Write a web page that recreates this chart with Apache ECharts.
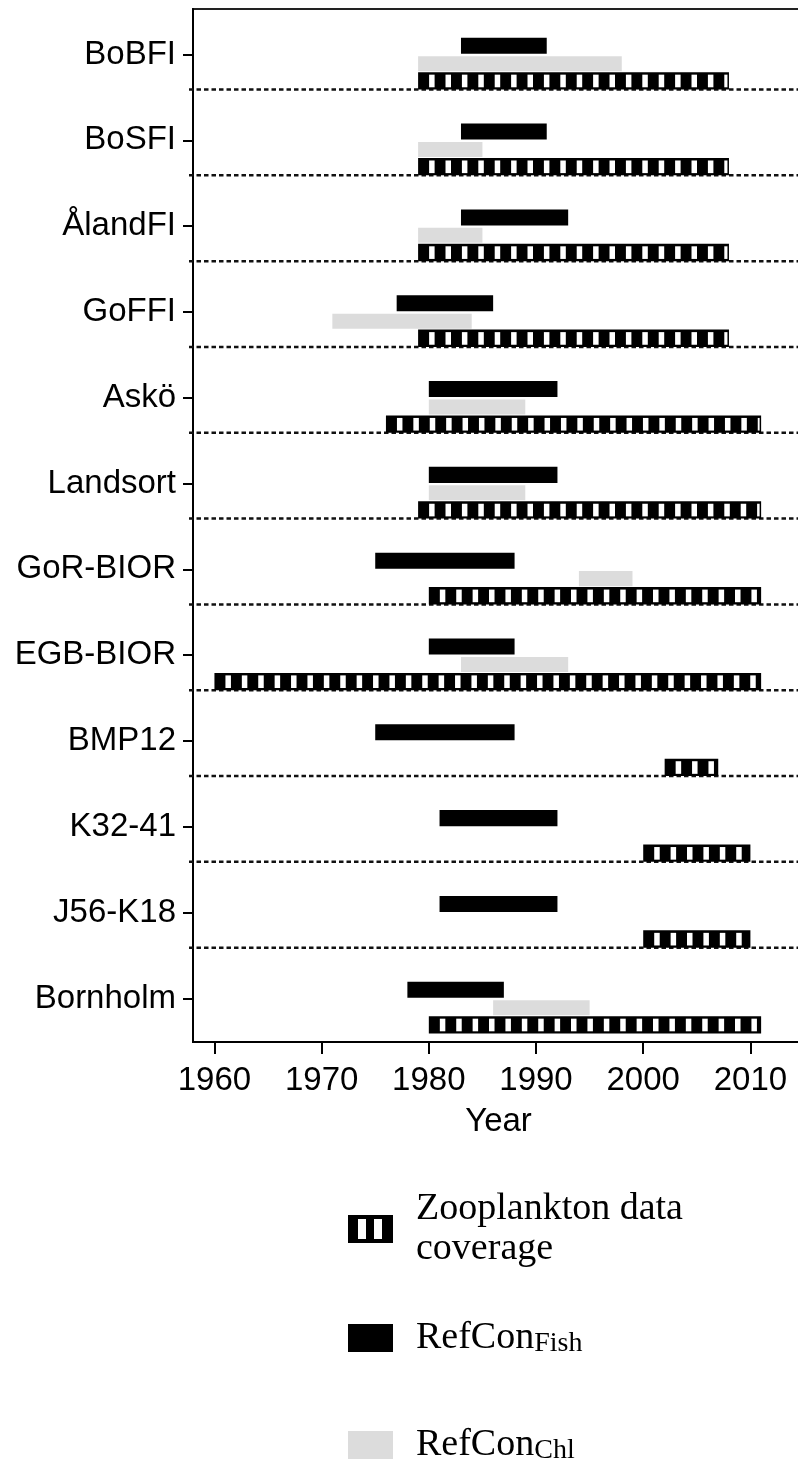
<!DOCTYPE html>
<html>
<head>
<meta charset="utf-8">
<script src="https://cdn.jsdelivr.net/npm/echarts@6/dist/echarts.min.js"></script>
<style>
html,body{margin:0;padding:0;background:#fff;}
#chart{width:798px;height:1467px;}
</style>
</head>
<body>
<div id="chart"></div>
<script>
// ---- data ----
const categories = ['BoBFI','BoSFI','ÅlandFI','GoFFI','Askö','Landsort','GoR-BIOR','EGB-BIOR','BMP12','K32-41','J56-K18','Bornholm'];
const fishStart = [1983,1983,1983,1977,1980,1980,1975,1980,1975,1981,1981,1978];
const fishEnd   = [1991,1991,1993,1986,1992,1992,1988,1988,1988,1992,1992,1987];
const chlStart  = [1979,1979,1979,1971,1980,1980,1994,1983,null,null,null,1986];
const chlEnd    = [1998,1985,1985,1984,1989,1989,1999,1993,null,null,null,1995];
const zooStart  = [1979,1979,1979,1979,1976,1979,1980,1960,2002,2000,2000,1980];
const zooEnd    = [2008,2008,2008,2008,2011,2011,2011,2011,2007,2010,2010,2011];
const yearTicks = [1960,1970,1980,1990,2000,2010];
const seriesNames = ['Zooplankton data coverage','RefConFish','RefConChl'];

function rows(starts, ends){
  const out = [];
  for (let i = 0; i < categories.length; i++) {
    if (starts[i] != null && ends[i] != null) out.push([i, starts[i], ends[i]]);
  }
  return out;
}
const catIdx = categories.map((_, i) => i);
const sepRows = categories.slice(0, categories.length - 1).map((_, i) => [i]);

const SANS = 'Liberation Sans';
const SERIF = 'Liberation Serif';

function solidBar(topF, botF, fill){
  return function(params, api){
    const i = api.value(0);
    const p0 = api.coord([api.value(1), i]);
    const p1 = api.coord([api.value(2), i]);
    const u = Math.abs(api.size([0, 1])[1]);
    const y0 = p0[1] + topF * u, y1 = p0[1] + botF * u;
    return {type: 'rect', shape: {x: p0[0], y: y0, width: p1[0] - p0[0], height: y1 - y0}, style: {fill: fill}};
  };
}

function stripedBar(topF, botF){
  return function(params, api){
    const i = api.value(0);
    const p0 = api.coord([api.value(1), i]);
    const p1 = api.coord([api.value(2), i]);
    const u = Math.abs(api.size([0, 1])[1]);
    const y0 = p0[1] + topF * u, y1 = p0[1] + botF * u;
    const w = p1[0] - p0[0];
    const children = [{type: 'rect', shape: {x: p0[0], y: y0, width: w, height: y1 - y0}, style: {fill: '#000'}}];
    const period = 16.4, off = 11, sw = 5.5, inTop = 2.5, inBot = 2.2;
    for (let s = off; s < w - 3; s += period) {
      const ww = Math.min(sw, w - 1.5 - s);
      children.push({type: 'rect', shape: {x: p0[0] + s, y: y0 + inTop, width: ww, height: (y1 - y0) - inTop - inBot}, style: {fill: '#fff'}});
    }
    return {type: 'group', children: children};
  };
}

const chart = echarts.init(document.getElementById('chart'), null, {renderer: 'canvas'});

const legendBase = {
  orient: 'vertical', left: 348, padding: 0, itemWidth: 45, itemHeight: 28,
  selectedMode: false,
  itemStyle: {borderWidth: 0},
  textStyle: {fontFamily: SERIF, fontSize: 38, color: '#000', lineHeight: 40, padding: [0, 0, 0, 18],
    rich: {sub: {fontFamily: SERIF, fontSize: 28, color: '#000', verticalAlign: 'bottom', lineHeight: 24}}}
};

const option = {
  backgroundColor: '#fff',
  animation: false,
  grid: {left: 193, right: -6, top: 9, bottom: 425, show: true, borderColor: '#222', borderWidth: 2,
    backgroundColor: 'transparent', outerBoundsMode: 'none', containLabel: false},
  xAxis: {
    type: 'value', min: 1958, max: 2015,
    name: 'Year', nameLocation: 'middle', nameGap: 63,
    nameTextStyle: {fontFamily: SANS, fontSize: 33, color: '#000'},
    axisLine: {show: true, onZero: false, lineStyle: {color: '#000', width: 2}},
    axisTick: {show: true, length: 12, lineStyle: {color: '#000', width: 2}, customValues: yearTicks},
    axisLabel: {fontFamily: SANS, fontSize: 33, color: '#000', margin: 22, customValues: yearTicks,
      formatter: function(v){ return String(v); }},
    splitLine: {show: false}
  },
  yAxis: {
    type: 'value', inverse: true, min: -0.53, max: 11.507,
    axisLine: {show: true, onZero: false, lineStyle: {color: '#000', width: 2}},
    axisTick: {show: true, length: 10, lineStyle: {color: '#000', width: 2}, customValues: catIdx},
    axisLabel: {fontFamily: SANS, fontSize: 33, color: '#000', margin: 17, customValues: catIdx,
      formatter: function(v){ return categories[Math.round(v)]; }},
    splitLine: {show: false}
  },
  legend: [
    Object.assign({}, legendBase, {top: 1189, data: [{name: seriesNames[0], icon: 'path://M0,0H45V4H0Z M0,24H45V28H0Z M0,0H10V28H0Z M18,0H26V28H18Z M34,0H45V28H34Z'}],
      formatter: function(){ return 'Zooplankton data\ncoverage'; }}),
    Object.assign({}, legendBase, {top: 1318, data: [{name: seriesNames[1], icon: 'rect'}],
      formatter: function(){ return 'RefCon{sub|Fish}'; }}),
    Object.assign({}, legendBase, {top: 1425, data: [{name: seriesNames[2], icon: 'rect'}],
      formatter: function(){ return 'RefCon{sub|Chl}'; }})
  ],
  series: [
    {
      name: 'separators', type: 'custom', clip: false, silent: true, z: 1,
      data: sepRows, encode: {y: 0},
      renderItem: function(params, api){
        const cs = params.coordSys;
        const p = api.coord([1958, api.value(0) + 0.408]);
        return {type: 'line', shape: {x1: cs.x - 4, y1: p[1], x2: cs.x + cs.width, y2: p[1]},
          style: {stroke: '#111', lineWidth: 2.5, lineDash: [4.5, 3]}};
      }
    },
    {
      name: seriesNames[2], type: 'custom', clip: false, z: 2,
      itemStyle: {color: '#dcdcdc'},
      data: rows(chlStart, chlEnd), encode: {x: [1, 2], y: 0},
      renderItem: solidBar(0.02, 0.195, '#dcdcdc')
    },
    {
      name: seriesNames[1], type: 'custom', clip: false, z: 3,
      itemStyle: {color: '#000'},
      data: rows(fishStart, fishEnd), encode: {x: [1, 2], y: 0},
      renderItem: solidBar(-0.195, -0.008, '#000')
    },
    {
      name: seriesNames[0], type: 'custom', clip: false, z: 4,
      itemStyle: {color: '#000'},
      data: rows(zooStart, zooEnd), encode: {x: [1, 2], y: 0},
      renderItem: stripedBar(0.206, 0.408)
    }
  ]
};
chart.setOption(option);
</script>
</body>
</html>
